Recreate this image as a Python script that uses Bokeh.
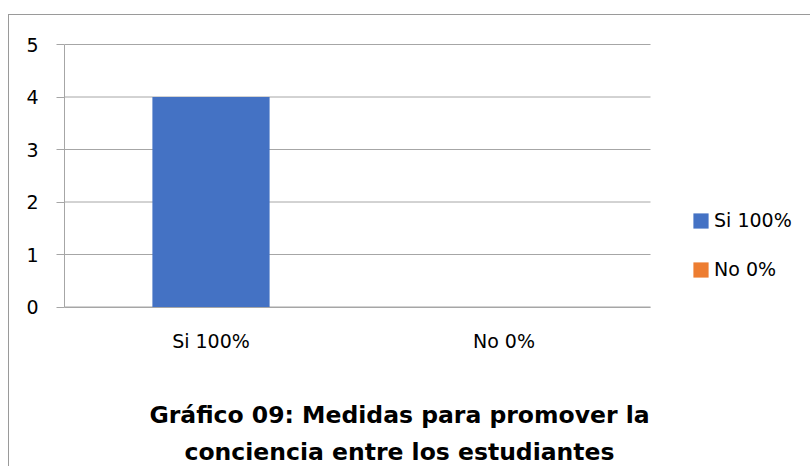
from bokeh.plotting import figure
from bokeh.models import (Range1d, FixedTicker, Legend, LegendItem,
                          ColumnDataSource, Label, LinearAxis)
from bokeh.embed import file_html
from bokeh.resources import INLINE

categories = ["Si 100%", "No 0%"]
values = [4, 0]
colors = ["#4472C4", "#ED7D31"]
y_ticks = [0, 1, 2, 3, 4, 5]
title_lines = ["Gráfico 09: Medidas para promover la",
               "conciencia entre los estudiantes"]

FONT = "DejaVu Sans"
GRAY = "#a6a6a6"

n = len(categories)
xpos = [i + 0.5 for i in range(n)]
source = ColumnDataSource(dict(x=xpos, val=values, color=colors, cat=categories))
grid = ColumnDataSource(dict(y=y_ticks, x0=[0] * len(y_ticks), x1=[n] * len(y_ticks)))

# frame covers the whole chart; the plot area (0..n, 0..5) is placed by the ranges
PX_X = 293.0      # pixels per category
PX_Y = 52.5       # pixels per unit
FRAME_W, FRAME_H = 747, 452
Y0_FROM_TOP = 291.5
y_start = -(FRAME_H - Y0_FROM_TOP) / PX_Y
y_end = Y0_FROM_TOP / PX_Y

p = figure(width=802, height=452, output_backend="svg", toolbar_location=None,
           x_range=Range1d(0, FRAME_W / PX_X), y_range=Range1d(y_start, y_end),
           min_border_left=55, min_border_right=0, min_border_top=0,
           min_border_bottom=0, x_axis_location=None, y_axis_location=None)
p.styles = {"margin-left": "8px", "margin-top": "14px",
            "border-left": "1px solid #9a9a9a", "border-top": "1px solid #9a9a9a"}
p.outline_line_color = None
p.xgrid.grid_line_color = None
p.ygrid.grid_line_color = None

p.segment(x0="x0", x1="x1", y0="y", y1="y", source=grid, line_color=GRAY,
          line_width=1)
r = p.vbar(x="x", top="val", width=0.4, fill_color="color", line_color=None,
           source=source)

yaxis = LinearAxis(ticker=FixedTicker(ticks=y_ticks), bounds=(0, 5))
yaxis.axis_line_color = GRAY
yaxis.major_tick_line_color = GRAY
yaxis.major_tick_out = 8
yaxis.major_tick_in = 0
yaxis.minor_tick_line_color = None
yaxis.major_label_standoff = 18
yaxis.major_label_text_font = FONT
yaxis.major_label_text_font_size = "19px"
yaxis.major_label_text_color = "#000000"
p.add_layout(yaxis, "left")

xaxis = LinearAxis(ticker=FixedTicker(ticks=xpos), bounds=(0, n), fixed_location=0,
                   major_label_overrides={x: c for x, c in zip(xpos, categories)})
xaxis.axis_line_color = GRAY
xaxis.major_tick_line_color = None
xaxis.minor_tick_line_color = None
xaxis.major_label_standoff = 17
xaxis.major_label_text_font = FONT
xaxis.major_label_text_font_size = "19px"
xaxis.major_label_text_color = "#000000"
p.add_layout(xaxis, "below")

legend = Legend(items=[LegendItem(label=categories[i], renderers=[r], index=i)
                       for i in range(n)],
                location=(627, 187), orientation="vertical",
                padding=0, margin=0, border_line_color=None,
                background_fill_alpha=0, glyph_width=19, glyph_height=19,
                label_standoff=4, spacing=27,
                label_text_font=FONT, label_text_font_size="19px",
                label_text_color="#000000")
p.add_layout(legend, "center")

title_x = (399 - 64) / PX_X
title_y = [(306.5 - 414) / PX_Y, (306.5 - 451) / PX_Y]
for line, ty in zip(title_lines, title_y):
    p.add_layout(Label(x=title_x, y=ty, text=line,
                       text_align="center", text_baseline="middle",
                       text_font=FONT, text_font_style="bold",
                       text_font_size="23.5px", text_color="#000000"))

open("out.html", "w").write(file_html(p, INLINE))
